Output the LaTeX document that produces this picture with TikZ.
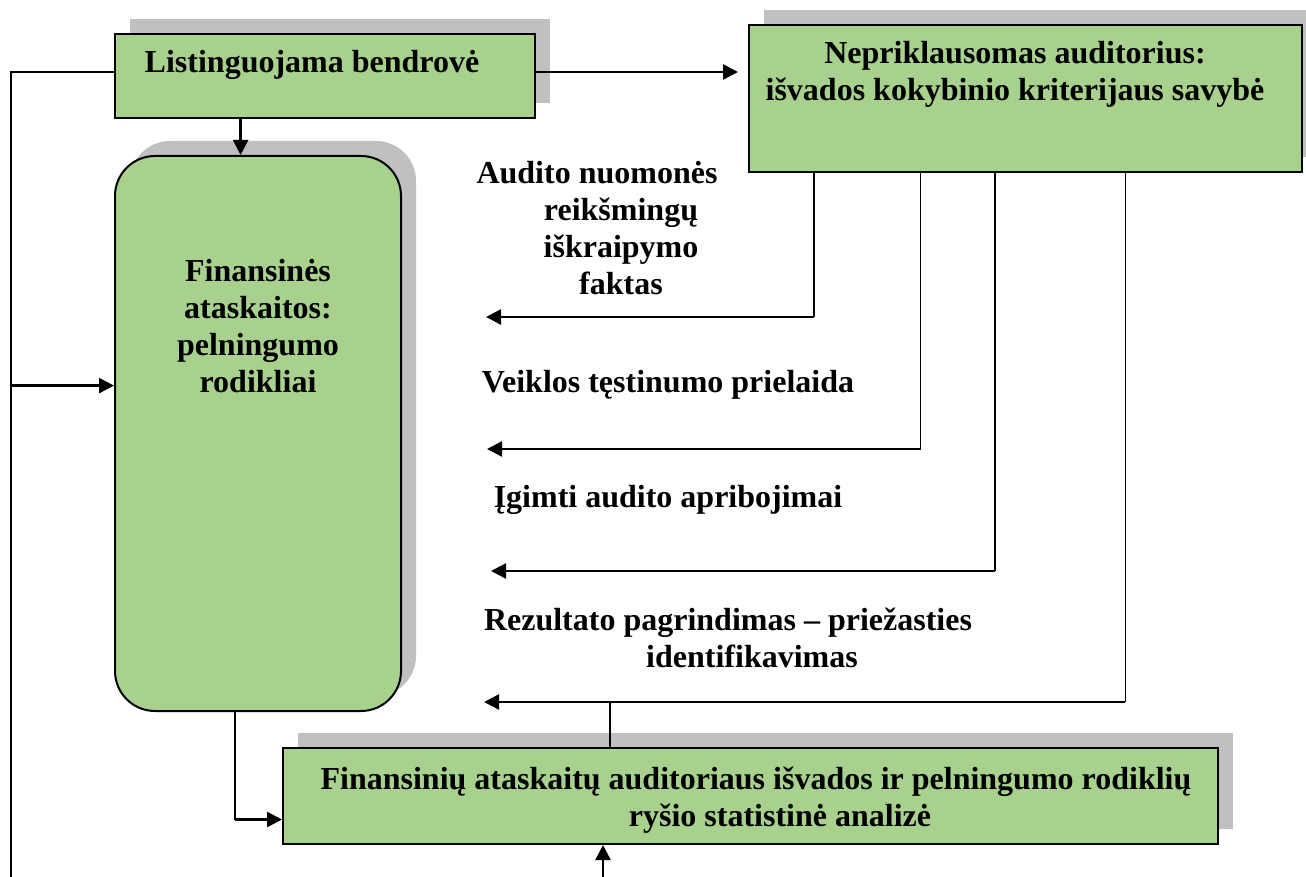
\documentclass[tikz,border=0pt]{standalone}
\usepackage{fontspec}
\setmainfont{Liberation Serif}
\usetikzlibrary{arrows.meta,calc,positioning,shadows}
\definecolor{boxgreen}{HTML}{A9D18E}
\definecolor{shadowgray}{HTML}{C0C0C0}
\newcommand{\firstpad}{\kern24pt}
\tikzset{
  >={Triangle[length=7.5pt,width=7.5pt]},
  link/.style={->,line width=1.25pt},
  wire/.style={line width=.75pt},
  box/.style={draw=black,line width=1pt,fill=boxgreen,inner sep=0pt,
              drop shadow={shadow xshift=7.5pt,shadow yshift=7.5pt,fill=shadowgray,opacity=1}},
  roundbox/.style={box,rounded corners=20pt},
  txt/.style={font=\bfseries\fontsize{16}{18.5}\selectfont,align=center,inner sep=0pt}
}

\begin{document}
\begin{tikzpicture}[x=.5pt,y=-.5pt]
  \useasboundingbox (0,0) rectangle (1306,877);
  % boxes
  \node[box,anchor=north west,minimum width=210pt,minimum height=42pt] (listing) at (114,33) {};
  \node[box,anchor=north west,minimum width=276.5pt,minimum height=73.5pt] (aud) at (748,24) {};
  \node[roundbox,below=18pt of listing.south west,anchor=north west,minimum width=143pt,minimum height=277.5pt] (fin) {};
  \node[box,anchor=north west,minimum width=467.5pt,minimum height=48pt] (stat) at (282,747) {};
  \node[txt,anchor=base] (listingtxt) at (312,73) {Listinguojama bendrovė};
  \node[txt,anchor=north] (audtxt) at (1015,41) {Nepriklausomas auditorius:\\išvados kokybinio kriterijaus savybė};
  \node[txt,anchor=north] (fintxt) at (258,259) {Finansinės\\ataskaitos:\\pelningumo\\rodikliai};
  \node[txt,anchor=north] (stattxt) at (780,767) {Finansinių ataskaitų auditoriaus išvados ir pelningumo rodiklių\firstpad\\ryšio statistinė analizė};
  % labels
  \node[txt,anchor=north] (opinion) at (621,161) {Audito nuomonės\firstpad\\reikšmingų\\iškraipymo\\faktas};
  \node[txt,anchor=base] (going) at (668,392) {Veiklos tęstinumo prielaida};
  \node[txt,anchor=base] (limits) at (668,507) {Įgimti audito apribojimai};
  \node[txt,anchor=north] (cause) at (752,608) {Rezultato pagrindimas – priežasties\firstpad\\identifikavimas};
  % free ends
  \coordinate (tipA) at (486,317);
  \coordinate (tipB) at (487,449);
  \coordinate (tipC) at (491,571);
  \coordinate (tipD) at (484,702);
  \coordinate (leftend) at (11,877);
  \coordinate (bottomend) at (603,877);
  \coordinate (finin) at ($(fin.north west)!.414!(fin.south west)$);
  \coordinate (statin) at ($(stat.north west)!.74!(stat.south west)$);
  % connectors
  \draw[link,shorten >=5pt] ([yshift=2pt]listing.east) -- ([yshift=2pt]listing.east -| aud.west);
  \draw[link] ($(listing.south west)!.3!(listing.south east)$) coordinate (ldown) -- (ldown |- fin.north);
  \draw[wire] ([yshift=2pt]listing.west) -| (leftend);
  \draw[link] (finin -| leftend) -- (finin);
  \draw[wire] ($(aud.south west)!.119!(aud.south east)$) coordinate (fa) -- (fa |- tipA) edge[link] (tipA);
  \draw[wire] ($(aud.south west)!.311!(aud.south east)$) coordinate (fb) -- (fb |- tipB) edge[link] (tipB);
  \draw[wire] ($(aud.south west)!.445!(aud.south east)$) coordinate (fc) -- (fc |- tipC) edge[link] (tipC);
  \draw[wire] ($(aud.south west)!.680!(aud.south east)$) coordinate (fd) -- (fd |- tipD) edge[link] (tipD);
  \draw[wire] ($(stat.north west)!.35!(stat.north east)$) coordinate (su) -- (su |- tipD);
  \draw[wire] ($(fin.south west)!.42!(fin.south east)$) coordinate (fs) -- (fs |- statin) edge[link] (statin);
  \draw[link] (bottomend) -- (bottomend |- stat.south);
\end{tikzpicture}
\end{document}
